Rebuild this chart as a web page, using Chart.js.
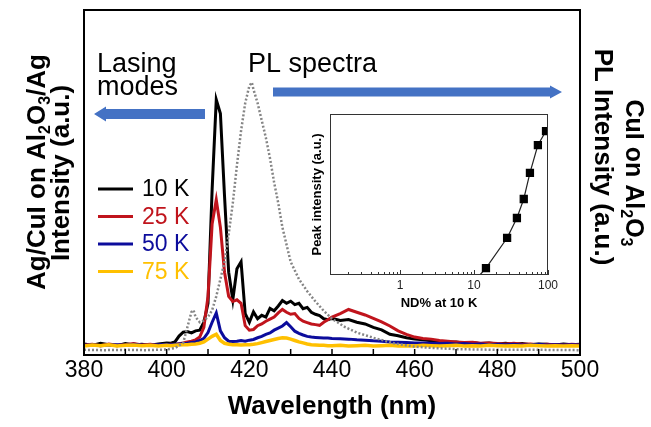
<!DOCTYPE html>
<html lang="en">
<head>
<meta charset="UTF-8">
<title>Lasing modes and PL spectra</title>
<script src="https://cdn.jsdelivr.net/npm/chart.js"></script>
<style>
    body { margin: 0; background: #fff; }
    .wrap { position: relative; width: 651px; height: 427px; }
    #main { position: absolute; left: 0; top: 0; }
    #inset { position: absolute; left: 290px; top: 100px; }
</style>
</head>
<body>
<div class="wrap">
    <canvas id="main" width="651" height="427"></canvas>
    <canvas id="inset" width="270" height="215"></canvas>
</div>
<script>
// wavelength grid (nm) shared by the four temperature spectra
const wl = [380, 382, 384, 386, 388, 390, 392, 394, 396, 398, 400,
    401, 402, 403, 404, 405, 406, 407, 408, 409, 410, 411, 412, 413, 414, 415, 416, 417, 418, 419, 420,
    421, 422, 423, 424, 425, 426, 427, 428, 429, 430, 431, 432, 433, 434, 435, 436, 437, 438, 439, 440,
    442, 444, 446, 448, 450, 452, 454, 456, 458, 460, 462, 464, 466, 468, 470,
    472, 474, 476, 478, 480, 482, 484, 486, 488, 490, 492, 494, 496, 498, 500];

const int10 = [3.2, 2.8, 3.4, 3.0, 2.7, 3.3, 2.9, 3.1, 2.8, 3.2, 3.5,
    3.4, 3.8, 5.5, 6.6, 6.8, 6.4, 7.0, 7.2, 9.5, 15, 48, 74, 70, 46, 24, 16, 25, 27, 12, 9.5,
    12.5, 10.5, 11.5, 11, 13.5, 12.8, 14.2, 15.8, 15, 15.6, 14.6, 15, 13.4, 13.8, 12.4, 11.8, 11.4, 10.5, 10.2, 10.6,
    10.0, 10.3, 9.5, 9.0, 8.0, 7.3, 6.0, 5.6, 5.0, 4.6, 4.4, 4.1, 3.9, 3.7, 3.8,
    3.4, 3.6, 3.3, 3.5, 3.2, 3.4, 3.1, 3.3, 3.0, 3.2, 3.1, 2.9, 3.2, 3.0, 3.1];

const int25 = [2.9, 3.1, 2.7, 3.2, 2.8, 3.0, 3.3, 2.9, 3.1, 2.8, 3.0,
    3.1, 3.0, 3.3, 3.5, 3.8, 4.0, 4.4, 5.2, 8, 17, 38, 45, 37, 24, 17, 15.5, 16, 15, 8.5, 7.2,
    7.4, 8.5, 9.0, 9.8, 10.4, 11.0, 12.2, 13.2, 12.4, 11.8, 12.0, 10.6, 9.8, 9.4, 9.0, 8.8, 8.6, 9.5, 10.2, 11.0,
    12.0, 13.2, 12.4, 11.6, 10.6, 9.6, 8.4, 7.0, 6.0, 5.2, 4.8, 4.6, 4.2, 4.0, 3.8,
    3.6, 3.7, 3.4, 3.5, 3.3, 3.2, 3.4, 3.1, 3.2, 3.0, 3.1, 3.0, 2.9, 3.1, 3.0];

const int50 = [2.8, 3.0, 2.7, 2.9, 3.0, 2.8, 3.1, 2.9, 2.8, 3.0, 3.1,
    3.0, 3.1, 3.2, 3.3, 3.4, 3.6, 3.8, 4.2, 4.8, 6.5, 9.5, 12.2, 7.0, 5.0, 4.0, 3.9, 4.0, 4.2, 4.0, 4.3,
    4.5, 5.0, 5.4, 6.0, 6.4, 7.2, 7.8, 8.4, 9.4, 8.2, 6.9, 6.3, 5.8, 5.4, 5.2, 5.1, 5.0, 4.9, 4.9, 4.8,
    4.7, 4.6, 4.4, 4.3, 4.1, 4.0, 3.8, 3.7, 3.6, 3.5, 3.5, 3.4, 3.3, 3.4, 3.2,
    3.3, 3.1, 3.2, 3.0, 3.1, 3.0, 3.1, 2.9, 3.0, 3.1, 2.9, 3.0, 2.9, 3.0, 2.9];

const int75 = [2.6, 2.9, 2.7, 3.0, 2.6, 2.8, 2.9, 2.7, 2.8, 2.6, 2.8,
    2.7, 2.8, 2.9, 3.0, 3.0, 3.1, 3.2, 3.4, 3.8, 4.6, 5.4, 6.0, 4.2, 3.4, 3.1, 3.0, 3.0, 2.9, 3.0, 3.0,
    3.1, 3.3, 3.6, 3.9, 4.2, 4.5, 4.8, 5.0, 4.9, 4.6, 4.2, 3.8, 3.5, 3.2, 3.0, 2.9, 2.8, 2.8, 2.7, 2.7,
    2.8, 2.6, 2.7, 2.8, 2.6, 2.7, 2.8, 2.6, 2.7, 2.6, 2.8, 2.7, 2.6, 2.7, 2.8,
    2.6, 2.7, 2.6, 2.8, 2.7, 2.6, 2.7, 2.6, 2.8, 2.7, 2.6, 2.7, 2.6, 2.7, 2.6];

// PL spectrum of CuI on Al2O3 (grey dotted)
const plWl = [380, 385, 390, 395, 400, 402, 404, 405, 406, 406.5,
    407, 408, 409, 410, 411, 412, 413, 414, 415, 416,
    417, 418, 419, 420, 420.6, 421, 422, 423, 424, 425,
    426, 427, 428, 430, 432, 434, 436, 438, 440, 443,
    446, 450, 455, 460, 465, 470, 480, 490, 500];
const plInt = [1.5, 1.4, 1.5, 1.4, 1.6, 2.0, 3.5, 8, 12.5, 13,
    11, 9.5, 10, 11, 13, 17, 22, 27, 35, 44,
    55, 65, 73, 78, 79, 77, 73, 68, 63, 57,
    50, 44, 37, 27, 22, 18.5, 15.5, 12.8, 10.5, 8.2,
    6.5, 5, 3.4, 2.4, 2.0, 1.7, 1.5, 1.5, 1.4];

const legendLabels = ['10 K', '25 K', '50 K', '75 K'];
const lineColors = ['#000000', '#c0141c', '#0c0c9c', '#ffc000'];

// inset: peak intensity vs ND%
const ndPct = [12, 14.5, 28, 38, 47, 57, 73, 94];
const peakInt = [0, 0.043, 0.23, 0.354, 0.472, 0.634, 0.807, 0.894];
const insetTickLabels = [1, 10, 100];

const FONT = 'Arial, "Liberation Sans", sans-serif';

function pts(xs, ys) {
    return xs.map((x, i) => ({ x: x, y: ys[i] }));
}

// text with subscript parts, drawn centred on the current origin
function drawRich(ctx, parts, size) {
    let w = 0;
    parts.forEach(p => {
        ctx.font = 'bold ' + (p[1] ? Math.round(size * 0.62) : size) + 'px ' + FONT;
        w += ctx.measureText(p[0]).width;
    });
    let x = -w / 2;
    parts.forEach(p => {
        ctx.font = 'bold ' + (p[1] ? Math.round(size * 0.62) : size) + 'px ' + FONT;
        ctx.fillText(p[0], x, p[1] ? size * 0.3 : 0);
        x += ctx.measureText(p[0]).width;
    });
}

function arrow(ctx, x1, x2, y, body, head, headLen) {
    let dir = x2 > x1 ? 1 : -1;
    let hx = x2 - dir * headLen;
    ctx.beginPath();
    ctx.moveTo(x1, y - body / 2);
    ctx.lineTo(hx, y - body / 2);
    ctx.lineTo(hx, y - head / 2);
    ctx.lineTo(x2, y);
    ctx.lineTo(hx, y + head / 2);
    ctx.lineTo(hx, y + body / 2);
    ctx.lineTo(x1, y + body / 2);
    ctx.closePath();
    ctx.fill();
}

const mainDecor = {
    id: 'mainDecor',
    afterDraw(chart) {
        const ctx = chart.ctx;
        const a = chart.chartArea;
        const xs = chart.scales.x;
        ctx.save();
        // frame
        ctx.strokeStyle = '#000';
        ctx.lineWidth = 2;
        ctx.strokeRect(a.left, a.top, a.right - a.left, a.bottom - a.top);
        // inward ticks every 10 nm
        ctx.lineWidth = 1.5;
        xs.ticks.forEach(t => {
            let px = xs.getPixelForValue(t.value);
            ctx.beginPath();
            ctx.moveTo(px, a.bottom);
            ctx.lineTo(px, a.bottom - 6);
            ctx.stroke();
        });

        // legend
        ctx.textBaseline = 'middle';
        ctx.textAlign = 'left';
        ctx.font = '23px ' + FONT;
        legendLabels.forEach((lab, i) => {
            let y = 189 + i * 27.5;
            ctx.strokeStyle = lineColors[i];
            ctx.lineWidth = 3;
            ctx.beginPath();
            ctx.moveTo(98, y);
            ctx.lineTo(133, y);
            ctx.stroke();
            ctx.fillStyle = lineColors[i];
            ctx.fillText(lab, 142, y + 1);
        });

        // annotations
        ctx.fillStyle = '#000';
        ctx.font = '27px ' + FONT;
        ctx.textBaseline = 'alphabetic';
        ctx.fillText('Lasing', 97, 72);
        ctx.fillText('modes', 97, 95);
        ctx.fillText('PL spectra', 248, 72);

        ctx.fillStyle = '#4472c4';
        arrow(ctx, 205, 94, 114, 10, 15, 12);
        arrow(ctx, 273, 562, 92, 9, 13, 12);

        // axis titles, left (reads upwards) and right (reads downwards)
        ctx.fillStyle = '#000';
        ctx.textBaseline = 'middle';
        ctx.save();
        ctx.translate(38, 172);
        ctx.rotate(-Math.PI / 2);
        drawRich(ctx, [['Ag/CuI on Al', 0], ['2', 1], ['O', 0], ['3', 1], ['/Ag', 0]], 26);
        ctx.restore();
        ctx.save();
        ctx.translate(62, 173);
        ctx.rotate(-Math.PI / 2);
        drawRich(ctx, [['Intensity (a.u.)', 0]], 26);
        ctx.restore();

        ctx.save();
        ctx.translate(633, 173);
        ctx.rotate(Math.PI / 2);
        drawRich(ctx, [['CuI on Al', 0], ['2', 1], ['O', 0], ['3', 1]], 25);
        ctx.restore();
        ctx.save();
        ctx.translate(602, 157);
        ctx.rotate(Math.PI / 2);
        drawRich(ctx, [['PL Intensity (a.u.)', 0]], 26);
        ctx.restore();

        ctx.restore();
    }
};

new Chart(document.getElementById('main'), {
    type: 'line',
    data: {
        datasets: [
            { label: 'PL', data: pts(plWl, plInt), borderColor: '#858585', borderWidth: 2.5, borderDash: [2, 2] },
            { label: legendLabels[3], data: pts(wl, int75), borderColor: lineColors[3], borderWidth: 3.5 },
            { label: legendLabels[2], data: pts(wl, int50), borderColor: lineColors[2], borderWidth: 3 },
            { label: legendLabels[1], data: pts(wl, int25), borderColor: lineColors[1], borderWidth: 3 },
            { label: legendLabels[0], data: pts(wl, int10), borderColor: lineColors[0], borderWidth: 3 }
        ]
    },
    options: {
        responsive: false,
        animation: false,
        layout: { padding: { left: 84, right: 71, top: 10, bottom: 0 } },
        elements: { point: { radius: 0 }, line: { tension: 0 } },
        plugins: { legend: { display: false }, tooltip: { enabled: false } },
        scales: {
            x: {
                type: 'linear', min: 380, max: 500,
                ticks: {
                    stepSize: 10, autoSkip: false, maxRotation: 0, padding: -6, color: '#000',
                    font: { family: FONT, size: 23 },
                    callback: v => v % 20 === 0 ? String(v) : ''
                },
                grid: { display: false },
                border: { display: false },
                title: {
                    display: true, text: 'Wavelength (nm)', color: '#000',
                    font: { family: FONT, size: 26, weight: 'bold' },
                    padding: { top: 0, bottom: 5 }
                },
                afterFit: s => { s.height = 72; }
            },
            y: { min: 0, max: 100, display: false }
        }
    },
    plugins: [mainDecor]
});

const insetDecor = {
    id: 'insetDecor',
    beforeDraw(chart) {
        const a = chart.chartArea;
        chart.ctx.save();
        chart.ctx.fillStyle = '#fff';
        chart.ctx.fillRect(a.left, a.top, a.right - a.left, a.bottom - a.top);
        chart.ctx.restore();
    },
    afterDraw(chart) {
        const ctx = chart.ctx;
        const a = chart.chartArea;
        const xs = chart.scales.x;
        ctx.save();
        ctx.strokeStyle = '#333';
        ctx.lineWidth = 1;
        ctx.strokeRect(a.left + 0.5, a.top + 0.5, a.right - a.left - 1, a.bottom - a.top - 1);
        xs.ticks.forEach(t => {
            let m = t.value / Math.pow(10, Math.floor(Math.log10(t.value) + 1e-9));
            if (Math.abs(m - Math.round(m)) > 0.01) return;
            let px = Math.round(xs.getPixelForValue(t.value)) + 0.5;
            let len = Math.round(m) === 1 ? 5 : 3;
            ctx.beginPath();
            ctx.moveTo(px, a.bottom);
            ctx.lineTo(px, a.bottom - len);
            ctx.stroke();
        });
        // decade labels
        ctx.fillStyle = '#222';
        ctx.font = '12px ' + FONT;
        ctx.textAlign = 'center';
        ctx.textBaseline = 'middle';
        insetTickLabels.forEach(v => {
            ctx.fillText(String(v), xs.getPixelForValue(v), a.bottom + 11);
        });
        ctx.restore();
    }
};

new Chart(document.getElementById('inset'), {
    type: 'line',
    data: {
        datasets: [{
            data: pts(ndPct, peakInt),
            borderColor: '#222', borderWidth: 1.2,
            pointStyle: 'rect', backgroundColor: '#000', pointBorderColor: '#000',
            pointRadius: ndPct.map((v, i) => i === 0 ? 0 : 5)
        }]
    },
    options: {
        responsive: false,
        animation: false,
        layout: { padding: { left: 0, right: 12, top: 14, bottom: 0 } },
        elements: { line: { tension: 0 } },
        plugins: { legend: { display: false }, tooltip: { enabled: false } },
        scales: {
            x: {
                type: 'logarithmic', min: 0.113, max: 100,
                ticks: { display: false },
                grid: { display: false },
                border: { display: false },
                title: {
                    display: true, text: 'ND% at 10 K', color: '#000',
                    font: { family: FONT, size: 13, weight: 'bold' },
                    padding: { top: 0, bottom: 4 }
                },
                afterFit: s => { s.height = 40; }
            },
            y: {
                min: 0, max: 1,
                ticks: { display: false },
                grid: { display: false },
                border: { display: false },
                title: {
                    display: true, text: 'Peak intensity (a.u.)', color: '#000',
                    font: { family: FONT, size: 13, weight: 'bold' },
                    padding: { top: 20, bottom: 0 }
                },
                afterFit: s => { s.width = 40; }
            }
        }
    },
    plugins: [insetDecor]
});
</script>
</body>
</html>
